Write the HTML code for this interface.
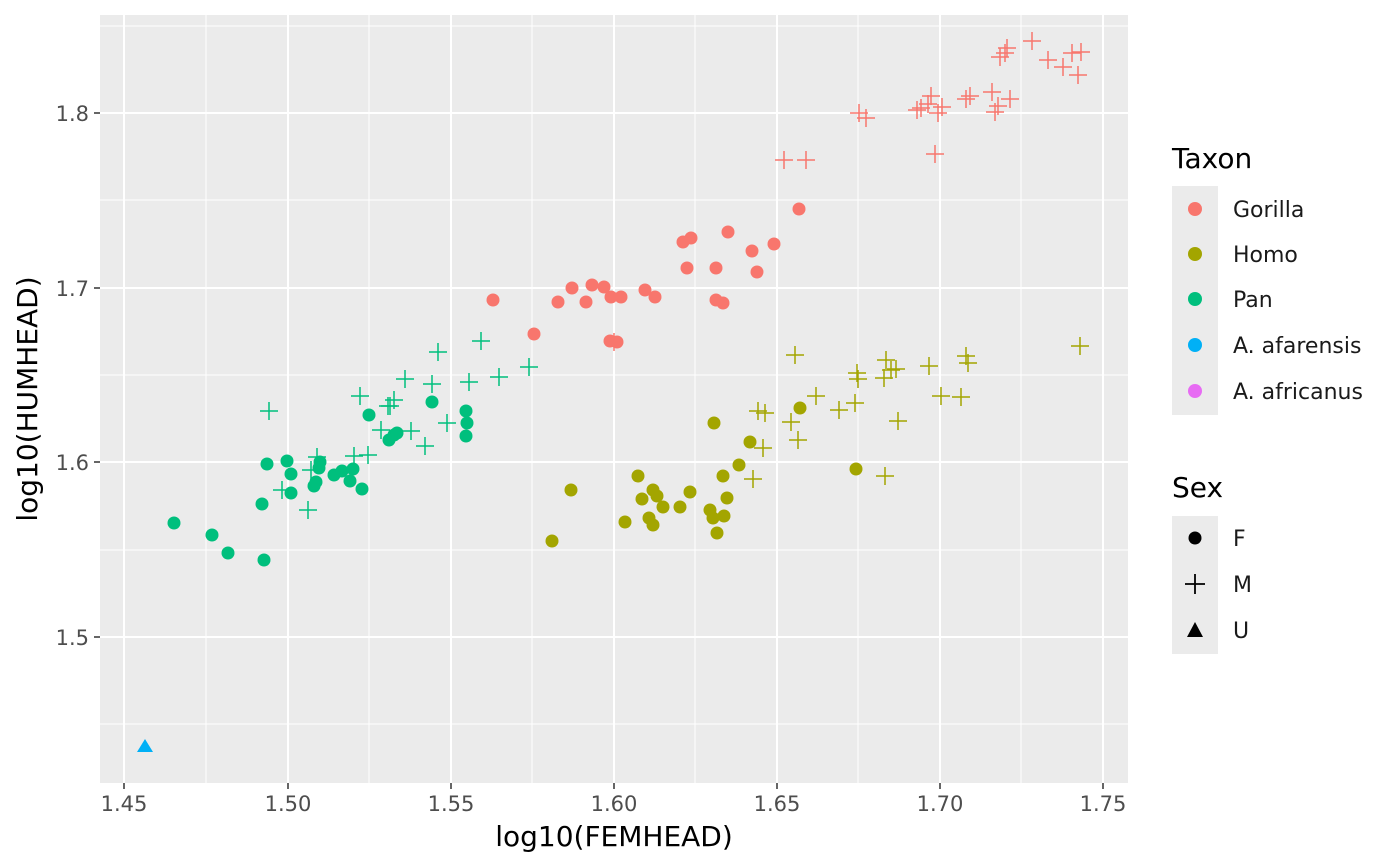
<!DOCTYPE html>
<html><head><style>body{margin:0;background:#fff}svg{display:block;font-family:"DejaVu Sans","Liberation Sans",sans-serif}</style></head><body>
<svg width="1400" height="866" viewBox="0 0 1400 866" xmlns="http://www.w3.org/2000/svg">
<rect x="100" y="15" width="1028" height="768" fill="#EBEBEB"/>
<g stroke="#fff" stroke-width="1">
<line x1="206" x2="206" y1="15" y2="783"/><line x1="369" x2="369" y1="15" y2="783"/><line x1="532" x2="532" y1="15" y2="783"/><line x1="695" x2="695" y1="15" y2="783"/><line x1="858" x2="858" y1="15" y2="783"/><line x1="1021" x2="1021" y1="15" y2="783"/>
<line y1="26" y2="26" x1="100" x2="1128"/><line y1="200" y2="200" x1="100" x2="1128"/><line y1="375" y2="375" x1="100" x2="1128"/><line y1="550" y2="550" x1="100" x2="1128"/><line y1="724" y2="724" x1="100" x2="1128"/>
</g>
<g stroke="#fff" stroke-width="2">
<line x1="124" x2="124" y1="15" y2="783"/><line x1="288" x2="288" y1="15" y2="783"/><line x1="451" x2="451" y1="15" y2="783"/><line x1="614" x2="614" y1="15" y2="783"/><line x1="777" x2="777" y1="15" y2="783"/><line x1="940" x2="940" y1="15" y2="783"/><line x1="1103" x2="1103" y1="15" y2="783"/>
<line y1="113" y2="113" x1="100" x2="1128"/><line y1="288" y2="288" x1="100" x2="1128"/><line y1="462" y2="462" x1="100" x2="1128"/><line y1="637" y2="637" x1="100" x2="1128"/>
</g>
<g stroke="#333" stroke-width="1.5">
<line x1="124" x2="124" y1="783" y2="789"/><line x1="288" x2="288" y1="783" y2="789"/><line x1="451" x2="451" y1="783" y2="789"/><line x1="614" x2="614" y1="783" y2="789"/><line x1="777" x2="777" y1="783" y2="789"/><line x1="940" x2="940" y1="783" y2="789"/><line x1="1103" x2="1103" y1="783" y2="789"/>
<line y1="113" y2="113" x1="94" x2="100"/><line y1="288" y2="288" x1="94" x2="100"/><line y1="462" y2="462" x1="94" x2="100"/><line y1="637" y2="637" x1="94" x2="100"/>
</g>
<g font-size="21" fill="#4D4D4D" text-anchor="middle">
<text x="124" y="811">1.45</text><text x="288" y="811">1.50</text><text x="451" y="811">1.55</text><text x="614" y="811">1.60</text><text x="777" y="811">1.65</text><text x="940" y="811">1.70</text><text x="1103" y="811">1.75</text>
</g>
<g font-size="21" fill="#4D4D4D" text-anchor="end">
<text x="89" y="121">1.8</text><text x="89" y="296">1.7</text><text x="89" y="470">1.6</text><text x="89" y="645">1.5</text>
</g>
<text x="614" y="846" font-size="28" text-anchor="middle">log10(FEMHEAD)</text>
<text transform="translate(37,399) rotate(-90)" font-size="28" text-anchor="middle">log10(HUMHEAD)</text>
<g id="pts"></g>
<polygon points="145,739 153,752 137,752" fill="#00B0F6"/>
<text x="1172" y="168" font-size="28">Taxon</text>
<rect x="1172" y="186" width="46" height="229" fill="#EBEBEB"/>
<circle cx="1195" cy="209" r="7" fill="#F8766D"/>
<circle cx="1195" cy="254" r="7" fill="#A3A500"/>
<circle cx="1195" cy="299" r="7" fill="#00BF7D"/>
<circle cx="1195" cy="345" r="7" fill="#00B0F6"/>
<circle cx="1195" cy="391" r="7" fill="#E76BF3"/>
<g font-size="22" fill="#1a1a1a">
<text x="1233" y="217">Gorilla</text><text x="1233" y="262">Homo</text><text x="1233" y="307">Pan</text><text x="1233" y="353">A. afarensis</text><text x="1233" y="399">A. africanus</text>
</g>
<text x="1172" y="497" font-size="28">Sex</text>
<rect x="1172" y="516" width="46" height="138" fill="#EBEBEB"/>
<circle cx="1195" cy="538" r="6.5" fill="#000"/>
<path d="M1185 584H1205M1195 574V594" stroke="#000" stroke-width="1.8"/>
<polygon points="1195,622 1203,637 1187,637" fill="#000"/>
<g font-size="22" fill="#1a1a1a"><text x="1233" y="546">F</text><text x="1233" y="592">M</text><text x="1233" y="638">U</text></g>
</svg>
<script>
var g=document.getElementById('pts'),ns='http://www.w3.org/2000/svg';
function C(c,a){a.forEach(function(p){var e=document.createElementNS(ns,'circle');e.setAttribute('cx',p[0]);e.setAttribute('cy',p[1]);e.setAttribute('r',6.5);e.setAttribute('fill',c);g.appendChild(e);});}
function P(c,a){a.forEach(function(p){var e=document.createElementNS(ns,'path');e.setAttribute('d','M'+(p[0]-9)+' '+p[1]+'H'+(p[0]+9)+'M'+p[0]+' '+(p[1]-9)+'V'+(p[1]+9));e.setAttribute('stroke',c);e.setAttribute('stroke-width',1.5);e.setAttribute('fill','none');g.appendChild(e);});}
C('#F8766D',[[493,300],[534,334],[558,302],[572,288],[586,302],[592,285],[604,287],[621,297],[611,297],[610,341],[617,342],[645,290],[655,297],[683,242],[687,268],[691,238],[716,300],[716,268],[723,303],[728,232],[752,251],[757,272],[774,244],[799,209]]);
P('#F8766D',[[614,342],[784,160],[806,160],[859,113],[866,118],[917,110],[921,108],[928,104],[931,96],[935,154],[938,113],[942,107],[966,99],[970,96],[992,92],[995,112],[998,106],[1010,99],[1000,57],[1007,48],[1005,53],[1048,60],[1063,67],[1072,53],[1078,75],[1081,52],[1032,41]]);
C('#A3A500',[[552,541],[571,490],[625,522],[638,476],[642,499],[649,518],[653,490],[653,525],[657,496],[663,507],[680,507],[690,492],[710,510],[713,518],[714,423],[717,533],[723,476],[724,516],[727,498],[739,465],[750,442],[800,408],[856,469]]);
P('#A3A500',[[795,355],[791,422],[798,440],[816,396],[839,410],[855,403],[857,373],[858,379],[886,360],[884,378],[891,370],[896,369],[898,421],[929,366],[941,396],[961,397],[966,356],[968,363],[1080,346],[758,411],[765,413],[763,448],[753,479],[885,476]]);
C('#00BF7D',[[174,523],[212,535],[228,553],[264,560],[262,504],[267,464],[287,461],[291,474],[291,493],[314,486],[316,482],[319,468],[320,462],[334,475],[342,471],[350,481],[353,469],[362,489],[369,415],[389,440],[394,435],[397,433],[432,402],[466,411],[467,423],[466,436]]);
P('#00BF7D',[[269,411],[282,490],[308,510],[311,470],[317,457],[360,396],[354,456],[368,455],[381,430],[388,406],[390,406],[394,400],[405,379],[411,431],[425,446],[432,384],[438,352],[447,423],[469,382],[481,341],[499,377],[529,367]]);
</script>
</body></html>
